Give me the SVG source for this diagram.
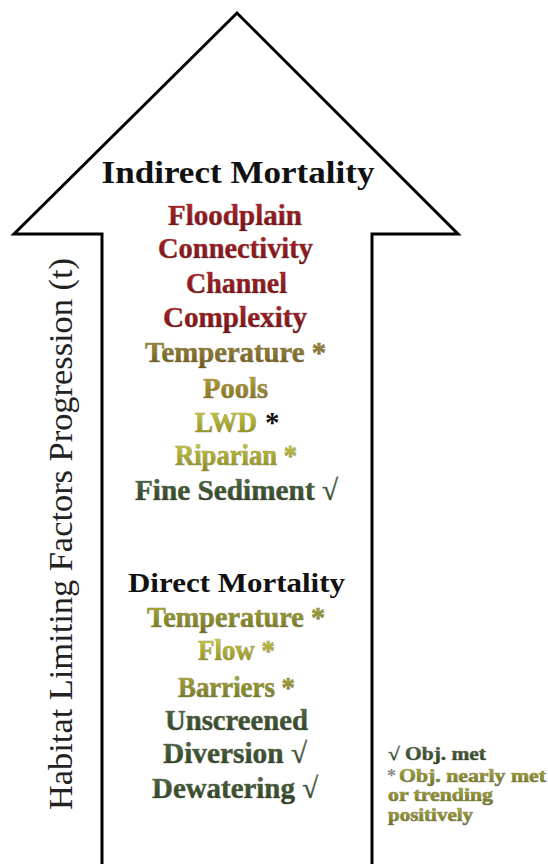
<svg xmlns="http://www.w3.org/2000/svg" width="548" height="864" viewBox="0 0 548 864">
<defs>
<linearGradient id="gRed" x1="0" y1="0" x2="0" y2="1"><stop offset="0" stop-color="#b8262a"/><stop offset="1" stop-color="#6e1214"/></linearGradient>
<linearGradient id="gBrown" x1="0" y1="0" x2="0" y2="1"><stop offset="0" stop-color="#a89040"/><stop offset="1" stop-color="#6b5a20"/></linearGradient>
<linearGradient id="gGold" x1="0" y1="0" x2="0" y2="1"><stop offset="0" stop-color="#c0a838"/><stop offset="1" stop-color="#7a6a20"/></linearGradient>
<linearGradient id="gYellow" x1="0" y1="0" x2="0" y2="1"><stop offset="0" stop-color="#d0d040"/><stop offset="1" stop-color="#8a8a20"/></linearGradient>
<linearGradient id="gOlive" x1="0" y1="0" x2="0" y2="1"><stop offset="0" stop-color="#b0b03c"/><stop offset="1" stop-color="#6e7020"/></linearGradient>
<linearGradient id="gGreen" x1="0" y1="0" x2="0" y2="1"><stop offset="0" stop-color="#56704a"/><stop offset="1" stop-color="#2c3c20"/></linearGradient>
</defs>
<style>
.t{font-family:"Liberation Serif","Times New Roman",serif;font-weight:bold;text-anchor:middle;font-size:29px;}
.s{text-anchor:start;}
.fx{stroke:#1a1a1a;stroke-width:0.7px;stroke-opacity:0.55;paint-order:stroke;}
.head{font-size:32px;fill:#111;}
.sub{font-size:28px;fill:#111;}
.red{fill:url(#gRed);}
.brown{fill:url(#gBrown);}
.gold{fill:url(#gGold);}
.yellow{fill:url(#gYellow);}
.olive{fill:url(#gOlive);}
.green{fill:url(#gGreen);}
.leg{font-family:"Liberation Serif","Times New Roman",serif;font-weight:bold;font-size:18px;}
.axis{font-family:"Liberation Serif","Times New Roman",serif;font-size:34px;fill:#222;text-anchor:middle;}
</style>
<rect width="548" height="864" fill="#ffffff"/>
<g id="arrow">
<polygon points="102,870 102,234 14,234 237,13 458,234 372,234 372,870" fill="#ffffff" stroke="#000000" stroke-width="3" stroke-linejoin="miter"/>
</g>
<g id="connectors"></g>
<g id="axis-label">
<text class="axis" x="72" y="534" transform="rotate(-90 72 534)" textLength="552" lengthAdjust="spacingAndGlyphs">Habitat Limiting Factors Progression (t)</text>
</g>
<g id="indirect-mortality">
<text class="t head" x="238" y="183" textLength="273" lengthAdjust="spacingAndGlyphs">Indirect Mortality</text>
</g>
<g id="floodplain-connectivity">
<text class="t red fx" x="235" y="225" textLength="134" lengthAdjust="spacingAndGlyphs">Floodplain</text>
<text class="t red fx" x="235.5" y="258" textLength="155" lengthAdjust="spacingAndGlyphs">Connectivity</text>
</g>
<g id="channel-complexity">
<text class="t red fx" x="236.5" y="293" textLength="101" lengthAdjust="spacingAndGlyphs">Channel</text>
<text class="t red fx" x="235" y="327" textLength="144" lengthAdjust="spacingAndGlyphs">Complexity</text>
</g>
<g id="temperature-indirect">
<text class="t brown fx" x="235.5" y="362" textLength="181" lengthAdjust="spacingAndGlyphs">Temperature *</text>
</g>
<g id="pools">
<text class="t gold fx" x="235.5" y="398" textLength="65" lengthAdjust="spacingAndGlyphs">Pools</text>
</g>
<g id="lwd">
<text class="t s yellow fx" x="195" y="432" textLength="62" lengthAdjust="spacingAndGlyphs">LWD</text>
<text class="t s" x="265" y="432" fill="#111">*</text>
</g>
<g id="riparian">
<text class="t yellow fx" x="236" y="465" textLength="122" lengthAdjust="spacingAndGlyphs">Riparian *</text>
</g>
<g id="fine-sediment">
<text class="t green fx" x="236.5" y="500" textLength="203" lengthAdjust="spacingAndGlyphs">Fine Sediment √</text>
</g>
<g id="direct-mortality">
<text class="t sub" x="236.5" y="592" textLength="217" lengthAdjust="spacingAndGlyphs">Direct Mortality</text>
</g>
<g id="temperature-direct">
<text class="t olive fx" x="236" y="627" textLength="178" lengthAdjust="spacingAndGlyphs">Temperature *</text>
</g>
<g id="flow">
<text class="t yellow fx" x="236.5" y="660" textLength="77" lengthAdjust="spacingAndGlyphs">Flow *</text>
</g>
<g id="barriers">
<text class="t olive fx" x="236.5" y="697" textLength="117" lengthAdjust="spacingAndGlyphs">Barriers *</text>
</g>
<g id="unscreened-diversion">
<text class="t green fx" x="236.5" y="730" textLength="143" lengthAdjust="spacingAndGlyphs">Unscreened</text>
<text class="t green fx" x="235" y="763" textLength="144" lengthAdjust="spacingAndGlyphs">Diversion √</text>
</g>
<g id="dewatering">
<text class="t green fx" x="235" y="798" textLength="166" lengthAdjust="spacingAndGlyphs">Dewatering √</text>
</g>
<g id="legend">
<text class="leg green fx" x="388" y="760" textLength="98" lengthAdjust="spacingAndGlyphs">√ Obj. met</text>
<text class="leg" x="387" y="782" fill="#888">*</text>
<text class="leg olive fx" x="399" y="782" textLength="147" lengthAdjust="spacingAndGlyphs">Obj. nearly met</text>
<text class="leg olive fx" x="388" y="801" textLength="105" lengthAdjust="spacingAndGlyphs">or trending</text>
<text class="leg olive fx" x="388" y="821" textLength="85" lengthAdjust="spacingAndGlyphs">positively</text>
</g>
</svg>
